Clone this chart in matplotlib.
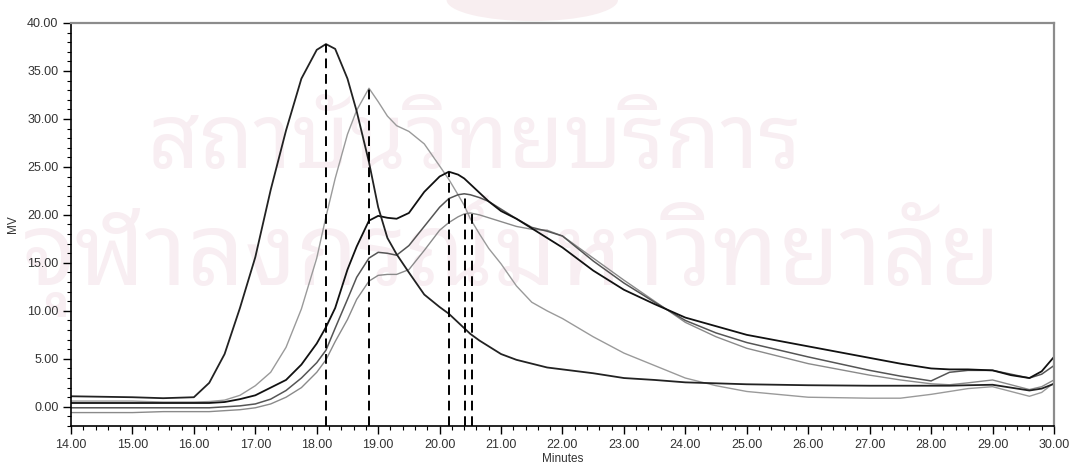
import matplotlib
matplotlib.use("Agg")
import matplotlib.pyplot as plt
from matplotlib.patches import Ellipse
from matplotlib.ticker import MultipleLocator, FormatStrFormatter

# retention time grid (minutes)
minutes = [14.0, 15.0, 15.5, 16.0, 16.25, 16.5, 16.75, 17.0, 17.25, 17.5, 17.75,
           18.0, 18.15, 18.3, 18.5, 18.65, 18.85, 19.0, 19.15, 19.3, 19.5, 19.75,
           20.0, 20.15, 20.3, 20.4, 20.5, 20.65, 20.8, 21.0, 21.25, 21.5, 21.75,
           22.0, 22.5, 23.0, 23.5, 24.0, 24.5, 25.0, 26.0, 27.0, 27.5, 28.0,
           28.3, 28.6, 29.0, 29.3, 29.6, 29.8, 30.0]

trace_a = [1.1, 1.0, 0.9, 1.0, 2.5, 5.5, 10.3, 15.6, 22.6, 28.8, 34.2,
           37.2, 37.8, 37.3, 34.2, 30.8, 25.5, 20.8, 17.6, 15.9, 14.0, 11.7,
           10.4, 9.7, 8.8, 8.2, 7.6, 6.9, 6.3, 5.5, 4.9, 4.5, 4.1,
           3.9, 3.5, 3.0, 2.8, 2.55, 2.45, 2.35, 2.25, 2.2, 2.2, 2.2,
           2.2, 2.25, 2.3, 2.0, 1.7, 1.9, 2.4]

trace_b = [0.6, 0.6, 0.5, 0.5, 0.55, 0.7, 1.2, 2.2, 3.6, 6.2, 10.2,
           15.5, 19.8, 23.8, 28.4, 30.9, 33.2, 31.8, 30.3, 29.3, 28.7, 27.4,
           25.1, 23.7, 22.1, 21.0, 19.6, 18.0, 16.5, 14.9, 12.6, 10.9, 10.0,
           9.2, 7.3, 5.6, 4.3, 3.0, 2.2, 1.6, 1.0, 0.9, 0.9, 1.3,
           1.6, 1.9, 2.1, 1.6, 1.1, 1.5, 2.5]

trace_c = [0.4, 0.4, 0.4, 0.4, 0.4, 0.5, 0.8, 1.2, 2.0, 2.8, 4.4,
           6.6, 8.3, 10.3, 14.3, 16.7, 19.4, 19.9, 19.7, 19.6, 20.2, 22.4,
           24.0, 24.5, 24.2, 23.8, 23.2, 22.3, 21.4, 20.4, 19.6, 18.6, 17.6,
           16.6, 14.2, 12.2, 10.7, 9.3, 8.4, 7.5, 6.3, 5.1, 4.5, 4.0,
           3.9, 3.9, 3.8, 3.3, 3.0, 3.7, 5.2]

trace_d = [-0.1, -0.1, -0.1, -0.1, -0.1, 0.0, 0.1, 0.3, 0.8, 1.7, 3.0,
           4.6, 5.9, 8.2, 11.2, 13.5, 15.5, 16.1, 16.0, 15.8, 16.8, 18.8,
           20.8, 21.7, 22.1, 22.2, 22.1, 21.8, 21.4, 20.6, 19.6, 18.7, 18.3,
           17.8, 15.2, 12.9, 10.9, 9.0, 7.7, 6.7, 5.2, 3.8, 3.2, 2.7,
           3.6, 3.8, 3.8, 3.4, 3.0, 3.4, 4.3]

trace_e = [-0.6, -0.6, -0.5, -0.5, -0.5, -0.4, -0.3, -0.1, 0.3, 1.0, 2.0,
           3.6, 4.9, 6.8, 9.1, 11.2, 13.1, 13.7, 13.8, 13.8, 14.3, 16.3,
           18.4, 19.2, 19.8, 20.1, 20.2, 20.0, 19.7, 19.3, 18.8, 18.5, 18.4,
           17.8, 15.5, 13.2, 11.0, 8.8, 7.3, 6.1, 4.5, 3.3, 2.8, 2.4,
           2.3, 2.5, 2.8, 2.3, 1.8, 2.1, 2.8]

# peak apex markers (time, height)
peak_times = [18.15, 18.85, 20.15, 20.42, 20.52]
peak_heights = [37.8, 33.2, 24.5, 22.2, 20.2]

watermark_top = "สถาบันวิทยบริการ"
watermark_bottom = "จุฬาลงกรณ์มหาวิทยาลัย"

fig = plt.figure(figsize=(10.71, 4.68), dpi=100)
ax = fig.add_axes([0.0663, 0.0897, 0.9178, 0.8612])

# faded watermark behind the plot (drawn before the axes)
thai = ["Noto Sans Thai Looped", "Noto Sans Thai", "DejaVu Sans"]
fig.text(0.443, 0.64, watermark_top, fontsize=65, color="#f8eef2",
         ha="center", va="baseline", family=thai, zorder=-1)
fig.text(0.478, 0.392, watermark_bottom, fontsize=72, color="#f8eef2",
         ha="center", va="baseline", family=thai, zorder=-1)
fig.patches.append(Ellipse((0.497, 1.0), 0.16, 0.09, transform=fig.transFigure,
                           facecolor="#f8eef0", edgecolor="none", zorder=-1))

ax.set_facecolor("none")
ax.plot(minutes, trace_b, color="#9a9a9a", lw=1.0)
ax.plot(minutes, trace_e, color="#8a8a8a", lw=1.0)
ax.plot(minutes, trace_d, color="#555555", lw=1.1)
ax.plot(minutes, trace_c, color="#111111", lw=1.3)
ax.plot(minutes, trace_a, color="#222222", lw=1.3)

ax.vlines(peak_times, -2, peak_heights, colors="black", linestyles=(0, (5, 3)), lw=1.4)

ax.set_xlim(14, 30)
ax.set_ylim(-2, 40)
ax.xaxis.set_major_locator(MultipleLocator(1))
ax.xaxis.set_minor_locator(MultipleLocator(0.2))
ax.yaxis.set_major_locator(MultipleLocator(5))
ax.yaxis.set_minor_locator(MultipleLocator(1))
ax.xaxis.set_major_formatter(FormatStrFormatter("%.2f"))
ax.yaxis.set_major_formatter(FormatStrFormatter("%.2f"))
ax.tick_params(which="major", length=6, width=1, labelsize=9, labelcolor="#333333", pad=3)
ax.tick_params(which="minor", length=3, width=0.8)
for lab in ax.get_xticklabels() + ax.get_yticklabels():
    lab.set_family("Liberation Sans")

for side in ["left", "bottom"]:
    ax.spines[side].set_color("black")
    ax.spines[side].set_linewidth(1.2)
for side in ["top", "right"]:
    ax.spines[side].set_color("#8c8c8c")
    ax.spines[side].set_linewidth(1.6)

ax.set_xlabel("Minutes", fontsize=8.5, family="Liberation Sans", color="#333333", labelpad=2)
ax.set_ylabel("MV", fontsize=8.5, family="Liberation Sans", color="#333333", labelpad=6)

fig.savefig("out.png", dpi=100)
